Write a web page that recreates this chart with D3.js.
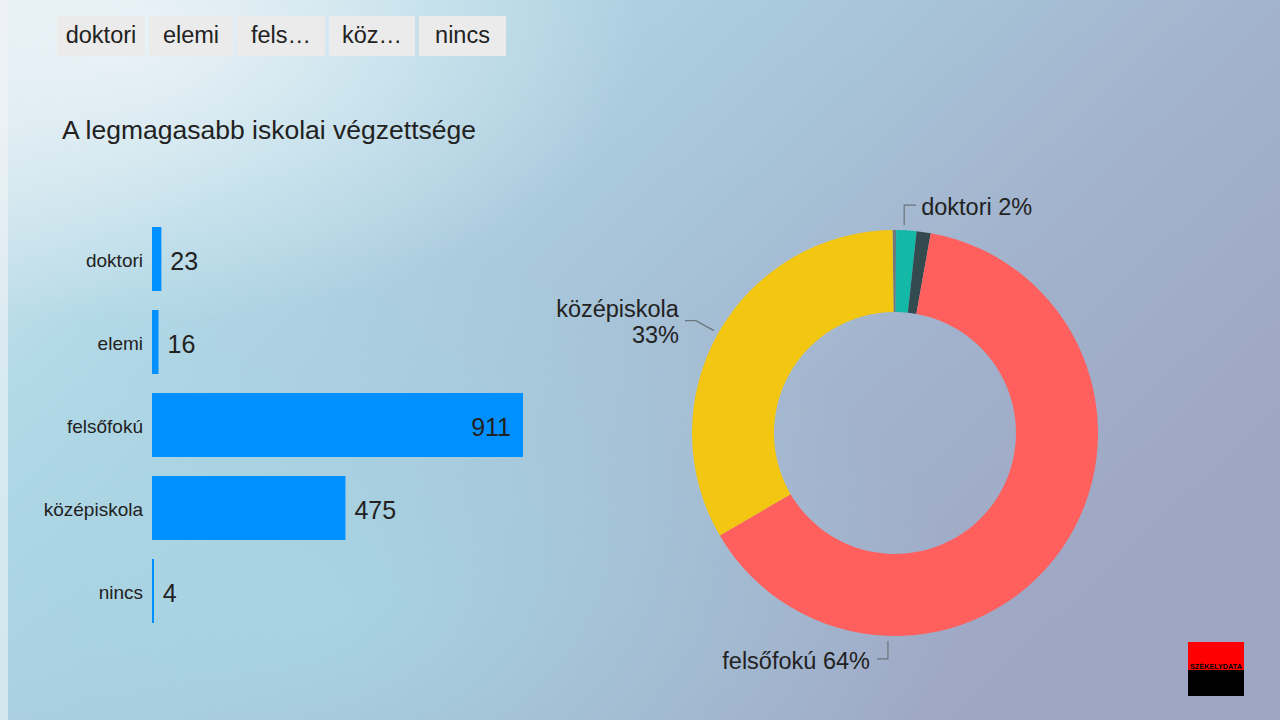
<!DOCTYPE html>
<html><head><meta charset="utf-8">
<script src="https://cdn.jsdelivr.net/npm/d3@7"></script>
<style>
html,body{margin:0;padding:0;overflow:hidden;}
body{width:1280px;height:720px;font-family:"Liberation Sans",Arial,sans-serif;}
</style></head>
<body><svg id="c" width="1280" height="720"></svg>
<script>
const categories = ["doktori", "elemi", "felsőfokú", "középiskola", "nincs"];
const values = [23, 16, 911, 475, 4];
const legendLabels = ["doktori", "elemi", "fels…", "köz…", "nincs"];
const pieOrder = ["nincs", "doktori", "elemi", "felsőfokú", "középiskola"];
const pieColors = {"nincs":"#6c7a80","doktori":"#14b8a6","elemi":"#334a4e","felsőfokú":"#ff5f5d","középiskola":"#f2c611"};
const title = "A legmagasabb iskolai végzettsége";

const svg = d3.select("#c");
const defs = svg.append("defs");
const lg = defs.append("linearGradient").attr("id","bg").attr("x1","0").attr("y1","0").attr("x2","1").attr("y2","0.6");
[[0,"#e0ecf2"],[0.25,"#b2d8e6"],[0.5,"#a8c6da"],[0.75,"#a2b2cc"],[1,"#9ea6c4"]].forEach(s=>lg.append("stop").attr("offset",s[0]).attr("stop-color",s[1]));
svg.append("rect").attr("width",1280).attr("height",720).attr("fill","url(#bg)");
const rg = defs.append("radialGradient").attr("id","bg2").attr("cx","0.25").attr("cy","0.85").attr("r","0.5");
rg.append("stop").attr("offset",0).attr("stop-color","#a8e0ea").attr("stop-opacity",0.6);
rg.append("stop").attr("offset",1).attr("stop-color","#a8e0ea").attr("stop-opacity",0);
svg.append("rect").attr("width",1280).attr("height",720).attr("fill","url(#bg2)");
const rg3 = defs.append("radialGradient").attr("id","bg3").attr("cx","0.1").attr("cy","0.05").attr("r","0.4");
rg3.append("stop").attr("offset",0).attr("stop-color","#eef4f8").attr("stop-opacity",0.85);
rg3.append("stop").attr("offset",1).attr("stop-color","#eef4f8").attr("stop-opacity",0);
svg.append("rect").attr("width",1280).attr("height",720).attr("fill","url(#bg3)");
svg.append("rect").attr("width",8).attr("height",720).attr("fill","#f2f4f6").attr("opacity",0.6);

// legend buttons
const lgX = [57,149,237,329,419], lgW = [88,84,88,86,87];
const leg = svg.append("g");
legendLabels.forEach((t,i)=>{
  leg.append("rect").attr("x",lgX[i]).attr("y",16).attr("width",lgW[i]).attr("height",40).attr("fill","#ebebeb");
  leg.append("text").attr("x",lgX[i]+lgW[i]/2).attr("y",43).attr("text-anchor","middle")
    .attr("font-size",23.5).attr("fill","#222").text(t);
});

svg.append("text").attr("x",62).attr("y",139).attr("font-size",26.5).attr("fill","#222").text(title);

// bars
const x = d3.scaleLinear().domain([0,911]).range([152,523]);
const y = d3.scaleBand().domain(categories).range([217.5,632.5]).paddingInner(0.229).paddingOuter(0.1145);
const bars = svg.append("g");
categories.forEach((c,i)=>{
  const v = values[i];
  bars.append("rect").attr("x",x(0)).attr("y",y(c)).attr("width",Math.max(2,x(v)-x(0))).attr("height",y.bandwidth()).attr("fill","#0090ff");
  bars.append("text").attr("x",143).attr("y",y(c)+y.bandwidth()/2+7.5).attr("text-anchor","end")
    .attr("font-size",19).attr("fill","#222").text(c);
  const inside = (x(v)-x(0)) > 250;
  bars.append("text").attr("x", inside ? x(v)-12 : x(v)+9).attr("y",y(c)+y.bandwidth()/2+10.5)
    .attr("text-anchor", inside ? "end":"start").attr("font-size",25).attr("fill","#222").text(v);
});

// donut
const cx = 895, cy = 433, rO = 203, rI = 121;
const pieData = pieOrder.map(k=>({k, v: values[categories.indexOf(k)]}));
const pie = d3.pie().value(d=>d.v).sort(null).startAngle(-0.012).endAngle(2*Math.PI-0.012);
const arcs = pie(pieData);
const arc = d3.arc().innerRadius(rI).outerRadius(rO);
const g = svg.append("g").attr("transform",`translate(${cx},${cy})`);
g.selectAll("path").data(arcs).join("path").attr("d",arc).attr("fill",d=>pieColors[d.data.k]);

const total = d3.sum(values);
const pct = k => Math.round(values[categories.indexOf(k)]/total*100)+"%";
const lab = svg.append("g").attr("fill","#222").attr("font-size",23.5);
const lineCol = "#6b747c";
function angPoint(m, r){ return [cx+r*Math.sin(m), cy-r*Math.cos(m)]; }
function mid(k){ const a = arcs.find(d=>d.data.k===k); return (a.startAngle+a.endAngle)/2; }
// doktori
let p = angPoint(mid("doktori")-0.012, rO+5);
svg.append("path").attr("d",`M${p[0]},${p[1]}V${p[1]-20}H${p[0]+12}`).attr("fill","none").attr("stroke",lineCol).attr("stroke-width",1.2);
lab.append("text").attr("x",p[0]+17).attr("y",p[1]-10).text("doktori "+pct("doktori"));
// középiskola
p = angPoint(mid("középiskola"), rO+5);
svg.append("path").attr("d",`M${p[0]},${p[1]}L${p[0]-18},${p[1]-10}H${p[0]-29}`).attr("fill","none").attr("stroke",lineCol).attr("stroke-width",1.2);
lab.append("text").attr("x",p[0]-35).attr("y",p[1]-14).attr("text-anchor","end").text("középiskola");
lab.append("text").attr("x",p[0]-35).attr("y",p[1]+12).attr("text-anchor","end").text(pct("középiskola"));
// felsőfokú (label placed at bottom of ring)
p = angPoint(Math.PI+0.034, rO+5);
svg.append("path").attr("d",`M${p[0]},${p[1]}V${p[1]+18}H${p[0]-11}`).attr("fill","none").attr("stroke",lineCol).attr("stroke-width",1.2);
lab.append("text").attr("x",p[0]-18).attr("y",p[1]+28).attr("text-anchor","end").text("felsőfokú "+pct("felsőfokú"));

// logo
const logo = svg.append("g").attr("transform","translate(1188,642)");
logo.append("rect").attr("width",56).attr("height",28).attr("fill","#ff0000");
logo.append("rect").attr("y",28).attr("width",56).attr("height",26).attr("fill","#000");
logo.append("text").attr("x",2).attr("y",27).attr("textLength",52).attr("lengthAdjust","spacingAndGlyphs")
  .attr("font-size",8).attr("font-weight","bold").attr("fill","#000").text("SZÉKELYDATA");
</script></body></html>
